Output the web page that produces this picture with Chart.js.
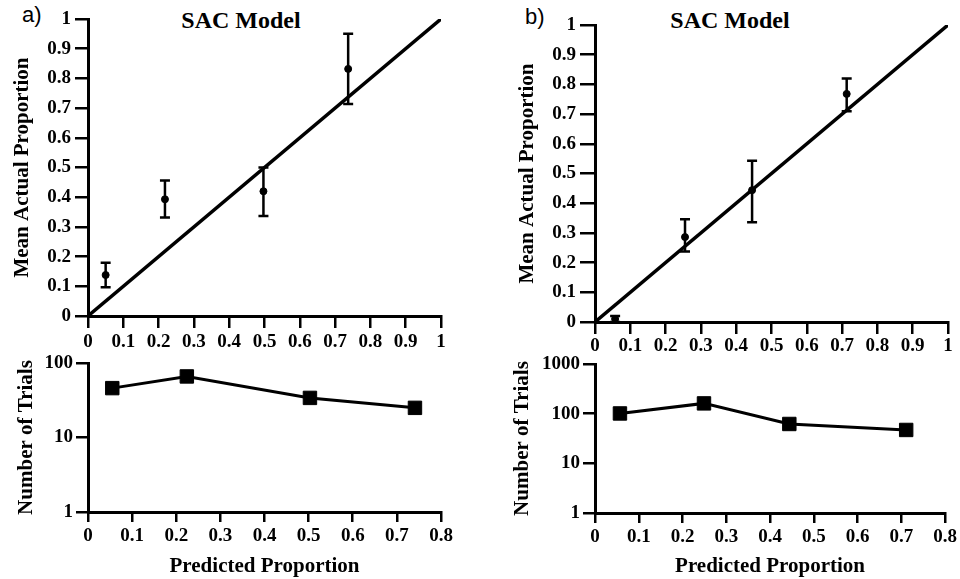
<!DOCTYPE html>
<html>
<head>
<meta charset="utf-8">
<script src="https://cdn.jsdelivr.net/npm/chart.js@4/dist/chart.umd.min.js"></script>
<style>
  html, body { margin: 0; padding: 0; background: #fff; }
  #page { position: relative; width: 960px; height: 579px; overflow: hidden; background: #fff; }
  canvas { position: absolute; }
  .lbl { position: absolute; font-family: "Liberation Sans", Arial, sans-serif; font-size: 22px; line-height: 22px; color: #000; }
  .ttl { position: absolute; width: 200px; text-align: center; font-family: "Liberation Serif", "Times New Roman", serif; font-weight: bold; font-size: 24px; line-height: 24px; color: #000; }
</style>
</head>
<body>
<div id="page">
  <div class="lbl" style="left:22px; top:4px;">a)</div>
  <div class="lbl" style="left:525px; top:6px;">b)</div>
  <div class="ttl" style="left:141px; top:8px;">SAC Model</div>
  <div class="ttl" style="left:630px; top:8px;">SAC Model</div>
  <canvas id="aTop" width="480" height="356" style="left:0px; top:0px;"></canvas>
  <canvas id="bTop" width="480" height="356" style="left:480px; top:0px;"></canvas>
  <canvas id="aBot" width="480" height="249" style="left:0px; top:330px;"></canvas>
  <canvas id="bBot" width="480" height="249" style="left:480px; top:330px;"></canvas>
</div>
<script>
// ---------- data ----------
// Panel a) calibration
const predTopA   = [0.050, 0.218, 0.497, 0.737];
const actualA    = [0.138, 0.393, 0.420, 0.832];
const lowA       = [0.097, 0.332, 0.337, 0.714];
const highA      = [0.179, 0.456, 0.500, 0.950];
// Panel a) number of trials
const predBotA   = [0.055, 0.224, 0.503, 0.741];
const trialsA    = [46, 66, 34, 25];

// Panel b) calibration
const predTopB   = [0.057, 0.255, 0.445, 0.713];
const actualB    = [0.010, 0.286, 0.444, 0.768];
const lowB       = [0.000, 0.237, 0.336, 0.710];
const highB      = [0.020, 0.346, 0.543, 0.820];
// Panel b) number of trials
const predBotB   = [0.057, 0.249, 0.444, 0.711];
const trialsB    = [101, 161, 62, 47];

// reference diagonal (perfect calibration)
const diagX = [0, 1];
const diagY = [0, 1];

// tick labels
const logTicksA = [1, 10, 100];
const logTicksB = [1, 10, 100, 1000];

const yTitleTop = "Mean Actual Proportion";
const yTitleBot = "Number of Trials";
const xTitleBot = "Predicted Proportion";

// ---------- helpers ----------
const SERIF = '"Liberation Serif", "Times New Roman", serif';
const tickFont = { family: SERIF, size: 19, weight: 'bold' };
const titleFont = { family: SERIF, size: 21, weight: 'bold' };

const pts = (xs, ys) => xs.map((x, i) => ({ x: x, y: ys[i] }));

const errorBars = {
  id: 'errorBars',
  afterDatasetsDraw(chart, args, opts) {
    if (!opts || !opts.xs) return;
    const { ctx } = chart;
    const xs = chart.scales.x, ys = chart.scales.y;
    ctx.save();
    ctx.strokeStyle = '#000';
    ctx.lineWidth = 2.5;
    ctx.lineCap = 'butt';
    opts.xs.forEach((xv, i) => {
      const px = xs.getPixelForValue(xv);
      const pl = ys.getPixelForValue(opts.lo[i]);
      const ph = ys.getPixelForValue(opts.hi[i]);
      ctx.beginPath();
      ctx.moveTo(px, pl); ctx.lineTo(px, ph);
      ctx.moveTo(px - opts.cap, pl); ctx.lineTo(px + opts.cap, pl);
      ctx.moveTo(px - opts.cap, ph); ctx.lineTo(px + opts.cap, ph);
      ctx.stroke();
    });
    ctx.restore();
  }
};

function axisGrid(tickLen) {
  return { display: true, drawOnChartArea: false, drawTicks: true, tickLength: tickLen, color: '#000', lineWidth: 2.5 };
}

function topChart(id, geo, pred, act, lo, hi) {
  return new Chart(document.getElementById(id), {
    type: 'scatter',
    data: {
      datasets: [
        { data: pts(diagX, diagY), showLine: true, borderColor: '#000', borderWidth: 3.5, pointRadius: 0, fill: false },
        { data: pts(pred, act), showLine: false, pointStyle: 'circle', pointRadius: 3.5, backgroundColor: '#000', borderColor: '#000', borderWidth: 1 }
      ]
    },
    plugins: [errorBars],
    options: {
      responsive: false, animation: false, devicePixelRatio: 1,
      layout: { padding: { left: 0, top: geo.top, right: geo.right, bottom: 0 } },
      plugins: { legend: { display: false }, tooltip: { enabled: false },
        errorBars: { xs: pred, lo: lo, hi: hi, cap: 5 } },
      scales: {
        x: {
          type: 'linear', min: 0, max: 1,
          ticks: { stepSize: 0.1, color: '#000', font: tickFont, padding: geo.xPad, maxRotation: 0, autoSkip: false,
                   callback: v => String(+v.toFixed(1)) },
          grid: axisGrid(12),
          border: { display: true, color: '#000', width: 3 },
          afterFit: s => { s.height = geo.xH; }
        },
        y: {
          type: 'linear', min: 0, max: 1,
          ticks: { stepSize: 0.1, color: '#000', font: tickFont, padding: 4,
                   callback: v => String(+v.toFixed(1)) },
          grid: axisGrid(geo.yTick),
          border: { display: true, color: '#000', width: 3 },
          title: { display: true, text: yTitleTop, color: '#000', font: titleFont, padding: { top: geo.yTitlePad, bottom: 0 } },
          afterFit: s => { s.width = geo.yW; }
        }
      }
    }
  });
}

function botChart(id, geo, pred, trials, logTicks) {
  return new Chart(document.getElementById(id), {
    type: 'scatter',
    data: {
      datasets: [
        { data: pts(pred, trials), showLine: true, borderColor: '#000', borderWidth: 3,
          pointStyle: 'rect', pointRadius: 9.5, backgroundColor: '#000', pointBorderColor: '#000', pointBorderWidth: 1 }
      ]
    },
    options: {
      responsive: false, animation: false, devicePixelRatio: 1,
      layout: { padding: { left: 0, top: geo.top, right: geo.right, bottom: 0 } },
      plugins: { legend: { display: false }, tooltip: { enabled: false } },
      scales: {
        x: {
          type: 'linear', min: 0, max: 0.8,
          ticks: { stepSize: 0.1, color: '#000', font: tickFont, padding: 3, maxRotation: 0, autoSkip: false,
                   callback: v => String(+v.toFixed(1)) },
          grid: axisGrid(10),
          border: { display: true, color: '#000', width: 3 },
          title: { display: true, text: xTitleBot, color: '#000', font: titleFont, padding: { top: 0, bottom: 0 } },
          afterFit: s => { s.height = geo.xH; }
        },
        y: {
          type: 'logarithmic', min: logTicks[0], max: logTicks[logTicks.length - 1],
          afterBuildTicks: s => { s.ticks = logTicks.map(v => ({ value: v })); },
          ticks: { color: '#000', font: tickFont, padding: 3, callback: v => String(v) },
          grid: axisGrid(12),
          border: { display: true, color: '#000', width: 3 },
          title: { display: true, text: yTitleBot, color: '#000', font: titleFont, padding: { top: geo.yTitlePad, bottom: 0 } },
          afterFit: s => { s.width = geo.yW; }
        }
      }
    }
  });
}

topChart('aTop', { top: 19, right: 39, xH: 40, yW: 88, xPad: 3, yTick: 13, yTitlePad: 10 },
         predTopA, actualA, lowA, highA);
topChart('bTop', { top: 25, right: 12, xH: 34, yW: 115, xPad: 1, yTick: 15, yTitlePad: 35 },
         predTopB, actualB, lowB, highB);
botChart('aBot', { top: 33, right: 39, xH: 67, yW: 88, yTitlePad: 14 }, predBotA, trialsA, logTicksA);
botChart('bBot', { top: 34, right: 12, xH: 66, yW: 115, yTitlePad: 30 }, predBotB, trialsB, logTicksB);
</script>
</body>
</html>
